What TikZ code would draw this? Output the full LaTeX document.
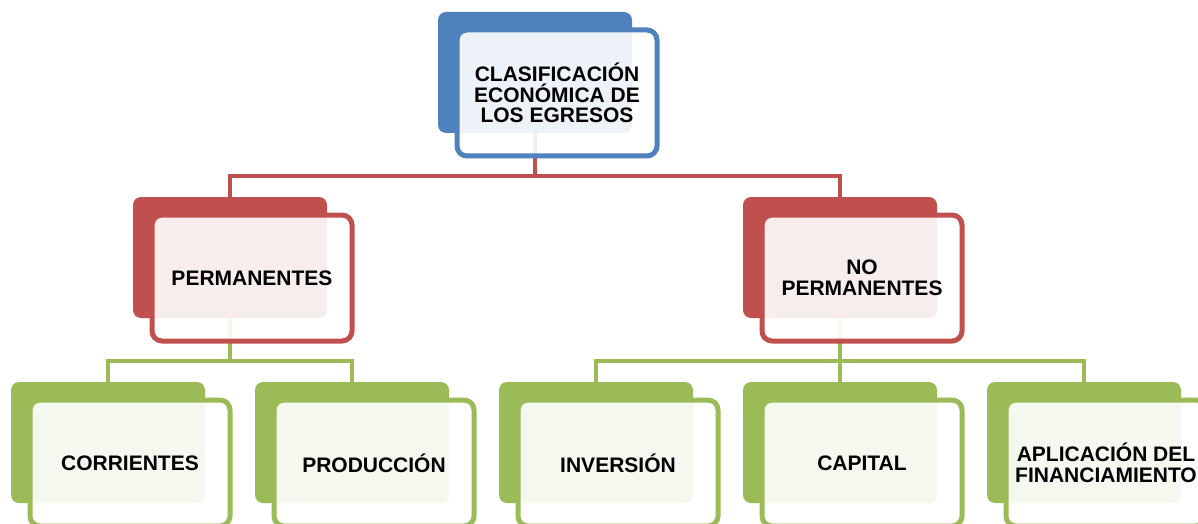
\documentclass[tikz,border=0pt]{standalone}
\usepackage{fontspec}
\setmainfont{Liberation Sans}
\definecolor{cblue}{HTML}{4F81BD}
\definecolor{cred}{HTML}{C0504D}
\definecolor{cgreen}{HTML}{9BBB59}
\begin{document}
\begin{tikzpicture}[x=0.75pt,y=-0.75pt,
  backbox/.style={rounded corners=6pt, minimum width=145.5pt, minimum height=90.75pt, inner sep=0pt, fill=#1},
  frontbox/.style={rounded corners=7.5pt, draw=#1, line width=3.75pt, fill=white, fill opacity=0.9, text opacity=1,
     minimum width=150pt, minimum height=94.5pt, inner sep=0pt, align=center, text=black,
     font=\bfseries\fontsize{15.75}{15.4}\selectfont},
  conn/.style={line width=3pt, draw=#1}]
\useasboundingbox (0,0) rectangle (1198,524);
\clip (0,0) rectangle (1198,524);
% back boxes
\node[backbox=cblue]  (b0) at (535,72.5) {};
\node[backbox=cred]   (b1) at (230,257.5) {};
\node[backbox=cred]   (b2) at (840,257.5) {};
\node[backbox=cgreen] (b3) at (108,442.5) {};
\node[backbox=cgreen] (b4) at (352,442.5) {};
\node[backbox=cgreen] (b5) at (596,442.5) {};
\node[backbox=cgreen] (b6) at (840,442.5) {};
\node[backbox=cgreen] (b7) at (1084,442.5) {};
% connectors
\draw[conn=cred] (b0.south) -- ++(0,43) -| (b1.north);
\draw[conn=cred] (b0.south) -- ++(0,43) -| (b2.north);
\draw[conn=cgreen] (b1.south) -- ++(0,43) -| (b3.north);
\draw[conn=cgreen] (b1.south) -- ++(0,43) -| (b4.north);
\draw[conn=cgreen] (b2.south) -- ++(0,43) -| (b5.north);
\draw[conn=cgreen] (b2.south) -- (b6.north);
\draw[conn=cgreen] (b2.south) -- ++(0,43) -| (b7.north);
% front boxes
\node[frontbox=cblue]  (f0) at (557,93) {CLASIFICACIÓN\\ECONÓMICA DE\\LOS EGRESOS};
\node[frontbox=cred]   (f1) at (252,278) {PERMANENTES};
\node[frontbox=cred]   (f2) at (862,278) {NO\\PERMANENTES};
\node[frontbox=cgreen] (f3) at (130,463) {CORRIENTES};
\node[frontbox=cgreen] (f4) at (374,463) {PRODUCCIÓN};
\node[frontbox=cgreen] (f5) at (618,463) {INVERSIÓN};
\node[frontbox=cgreen] (f6) at (862,463) {CAPITAL};
\node[frontbox=cgreen] (f7) at (1106,463) {APLICACIÓN DEL\\FINANCIAMIENTO};
\end{tikzpicture}
\end{document}
